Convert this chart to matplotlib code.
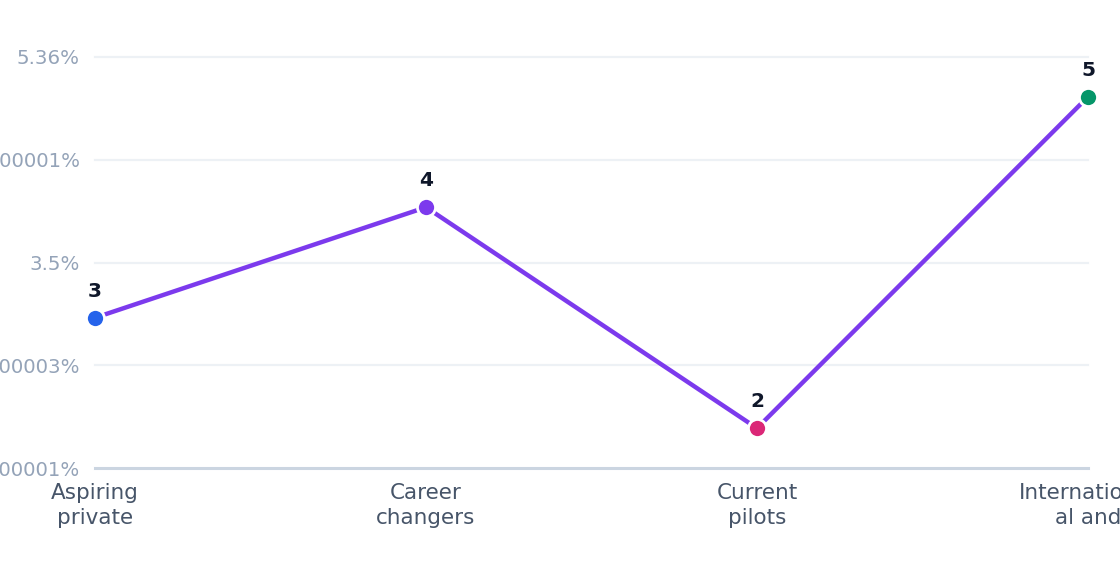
import matplotlib
matplotlib.use("Agg")
import matplotlib.pyplot as plt

categories = ["Aspiring\nprivate", "Career\nchangers", "Current\npilots", "International\nal and"]
values = [3, 4, 2, 5]
point_labels = ["3", "4", "2", "5"]
point_colors = ["#2563eb", "#7c3aed", "#db2777", "#059669"]
ytick_values = [1.64, 2.57, 3.5, 4.43, 5.36]
ytick_labels = ["1.6400000000000001%", "2.5700000000000003%", "3.5%",
                "4.430000000000001%", "5.36%"]

fig = plt.figure(figsize=(11.2, 5.72), dpi=100)
ax = fig.add_axes([95 / 1120, 1 - 468 / 572, 993 / 1120, 411 / 572])

xs = list(range(len(values)))

# grid + baseline
for v in ytick_values[1:]:
    ax.axhline(v, color="#edf1f5", linewidth=1.6, zorder=0, clip_on=False)
ax.axhline(ytick_values[0], color="#cbd5e1", linewidth=2.2, zorder=1, clip_on=False)

ax.plot(xs, values, color="#7c3aed", linewidth=3.2, zorder=2, clip_on=False)
for x, v, c, lab in zip(xs, values, point_colors, point_labels):
    ax.plot(x, v, "o", markersize=13, markerfacecolor=c,
            markeredgecolor="white", markeredgewidth=2, zorder=3, clip_on=False)
    ax.annotate(lab, (x, v), xytext=(0, 19), textcoords="offset points",
                ha="center", va="center", fontsize=14.5, fontweight="bold",
                color="#0f172a", zorder=4, annotation_clip=False)

ax.set_xlim(xs[0], xs[-1])
ax.set_ylim(ytick_values[0], ytick_values[-1])
ax.set_xticks(xs)
ax.set_xticklabels(categories, fontsize=15.5, color="#475569", linespacing=1.3)
ax.set_yticks(ytick_values)
ax.set_yticklabels(ytick_labels, fontsize=14.2, color="#94a3b8")
ax.tick_params(axis="both", length=0)
ax.tick_params(axis="y", pad=11)
ax.tick_params(axis="x", pad=11)
for s in ax.spines.values():
    s.set_visible(False)
ax.set_facecolor("white")

fig.savefig("out.png", dpi=100, facecolor="white")
